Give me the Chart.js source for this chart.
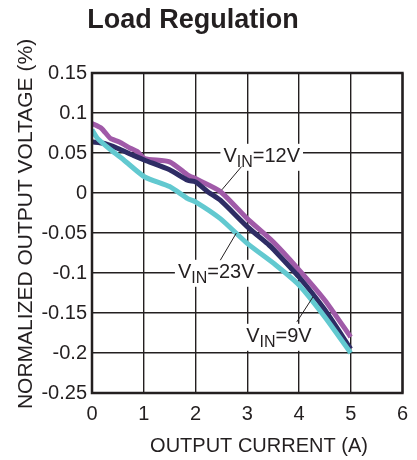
<!DOCTYPE html>
<html>
<head>
<meta charset="utf-8">
<script src="https://cdn.jsdelivr.net/npm/chart.js@4/dist/chart.umd.min.js"></script>
<style>
  html, body { margin: 0; padding: 0; background: #fff; }
  canvas { display: block; }
</style>
</head>
<body>
<canvas id="loadReg" width="417" height="460"></canvas>
<script>
// values
const vin12X = [0, 0.18, 0.36, 0.52, 0.74, 0.87, 1.02, 1.5, 1.85, 2.0, 2.48, 3.0, 3.5, 4.0, 4.5, 5.0];
const vin12Y = [0.087, 0.081, 0.068, 0.064, 0.056, 0.052, 0.043, 0.039, 0.0225, 0.018, 0.002, -0.032, -0.061, -0.096, -0.134, -0.18];

const vin9X = [0, 0.24, 0.49, 0.8, 1.02, 1.5, 1.85, 2.0, 2.23, 2.48, 3.0, 3.42, 3.5, 4.0, 4.5, 5.0];
const vin9Y = [0.064, 0.062, 0.056, 0.047, 0.041, 0.029, 0.016, 0.014, 0.002, -0.009, -0.042, -0.065, -0.07, -0.105, -0.146, -0.195];

const vin23X = [0, 0.11, 0.36, 0.62, 1.02, 1.5, 1.85, 2.0, 2.48, 3.0, 3.55, 4.0, 4.5, 5.0];
const vin23Y = [0.079, 0.068, 0.054, 0.041, 0.020, 0.008, -0.007, -0.011, -0.032, -0.063, -0.09, -0.115, -0.155, -0.2];

const xTicks = [0, 1, 2, 3, 4, 5, 6];
const yTicks = [-0.25, -0.2, -0.15, -0.1, -0.05, 0, 0.05, 0.1, 0.15];
const yTickLabels = ['-0.25', '-0.2', '-0.15', '-0.1', '-0.05', '0', '0.05', '0.1', '0.15'];

// curve labels: text after the subscript, anchor (left, baseline) and leader line ends, in data units
const curveLabels = [
  { rest: '=12V', x: 2.54, y: 0.039, line: [2.89, 0.033, 2.51, 0.004] },
  { rest: '=23V', x: 1.66, y: -0.106, line: [2.79, -0.050, 2.48, -0.084] },
  { rest: '=9V', x: 2.98, y: -0.186, line: [4.27, -0.130, 3.96, -0.161] }
];

const FONT = '"Liberation Sans", Arial, Helvetica, sans-serif';
const INK = '#231f20';

function pts(xs, ys) {
  return xs.map((x, i) => ({ x: x, y: ys[i] }));
}

const decor = {
  id: 'decor',
  afterDatasetsDraw(chart) {
    const ctx = chart.ctx;
    const sx = chart.scales.x, sy = chart.scales.y;
    ctx.save();
    curveLabels.forEach(l => {
      const px = sx.getPixelForValue(l.x);
      const py = sy.getPixelForValue(l.y);
      ctx.font = '20px ' + FONT;
      const wV = ctx.measureText('V').width;
      const wR = ctx.measureText(l.rest).width;
      ctx.font = '16px ' + FONT;
      const wS = ctx.measureText('IN').width;
      const w = wV + wS + wR;
      ctx.fillStyle = '#fff';
      ctx.fillRect(px - 3, py - 18, w + 6, 27);

      ctx.fillStyle = INK;
      ctx.textBaseline = 'alphabetic';
      ctx.textAlign = 'left';
      ctx.font = '20px ' + FONT;
      ctx.fillText('V', px, py);
      ctx.font = '16px ' + FONT;
      ctx.fillText('IN', px + wV, py + 5);
      ctx.font = '20px ' + FONT;
      ctx.fillText(l.rest, px + wV + wS, py);

      ctx.strokeStyle = INK;
      ctx.lineWidth = 1;
      ctx.beginPath();
      ctx.moveTo(sx.getPixelForValue(l.line[0]), sy.getPixelForValue(l.line[1]));
      ctx.lineTo(sx.getPixelForValue(l.line[2]), sy.getPixelForValue(l.line[3]));
      ctx.stroke();
    });
    ctx.restore();
  },
  afterDraw(chart) {
    const ctx = chart.ctx;
    const a = chart.chartArea;
    ctx.save();
    ctx.strokeStyle = INK;
    ctx.lineWidth = 2.5;
    ctx.strokeRect(a.left, a.top, a.right - a.left, a.bottom - a.top);

    ctx.fillStyle = INK;
    ctx.textAlign = 'center';
    ctx.textBaseline = 'alphabetic';
    ctx.font = 'bold 27px ' + FONT;
    ctx.fillText('Load Regulation', 193, 28);

    ctx.font = '20px ' + FONT;
    ctx.fillText('OUTPUT CURRENT (A)', 259, 452);

    ctx.font = '21px ' + FONT;
    ctx.translate(32, 224);
    ctx.rotate(-Math.PI / 2);
    ctx.fillText('NORMALIZED OUTPUT VOLTAGE (%)', 0, 0);
    ctx.restore();
  }
};

new Chart(document.getElementById('loadReg'), {
  type: 'scatter',
  data: {
    datasets: [
      { label: 'VIN=23V', data: pts(vin23X, vin23Y), borderColor: '#62c9d0' },
      { label: 'VIN=9V', data: pts(vin9X, vin9Y), borderColor: '#2e2c64' },
      { label: 'VIN=12V', data: pts(vin12X, vin12Y), borderColor: '#a05aa8' }
    ].map(d => Object.assign(d, {
      showLine: true,
      borderWidth: 5,
      pointRadius: 0,
      tension: 0.2,
      borderJoinStyle: 'round',
      fill: false
    }))
  },
  options: {
    responsive: false,
    animation: false,
    devicePixelRatio: 1,
    layout: { padding: { top: 73, right: 7, bottom: 0, left: 0 } },
    plugins: { legend: { display: false }, tooltip: { enabled: false } },
    scales: {
      x: {
        type: 'linear',
        min: 0,
        max: 6,
        afterBuildTicks: s => { s.ticks = xTicks.map(v => ({ value: v })); },
        afterFit: s => { s.height = 67; },
        grid: { color: INK, lineWidth: 1.4, drawTicks: false },
        border: { display: false },
        ticks: { color: INK, padding: 9, font: { size: 20, family: FONT }, maxRotation: 0,
                 callback: v => String(v) }
      },
      y: {
        type: 'linear',
        min: -0.25,
        max: 0.15,
        afterBuildTicks: s => { s.ticks = yTicks.map(v => ({ value: v })); },
        afterFit: s => { s.width = 92; },
        grid: { color: INK, lineWidth: 1.4, drawTicks: false },
        border: { display: false },
        ticks: { color: INK, padding: 5, font: { size: 20, family: FONT },
                 callback: (v, i) => yTickLabels[i] }
      }
    }
  },
  plugins: [decor]
});
</script>
</body>
</html>
